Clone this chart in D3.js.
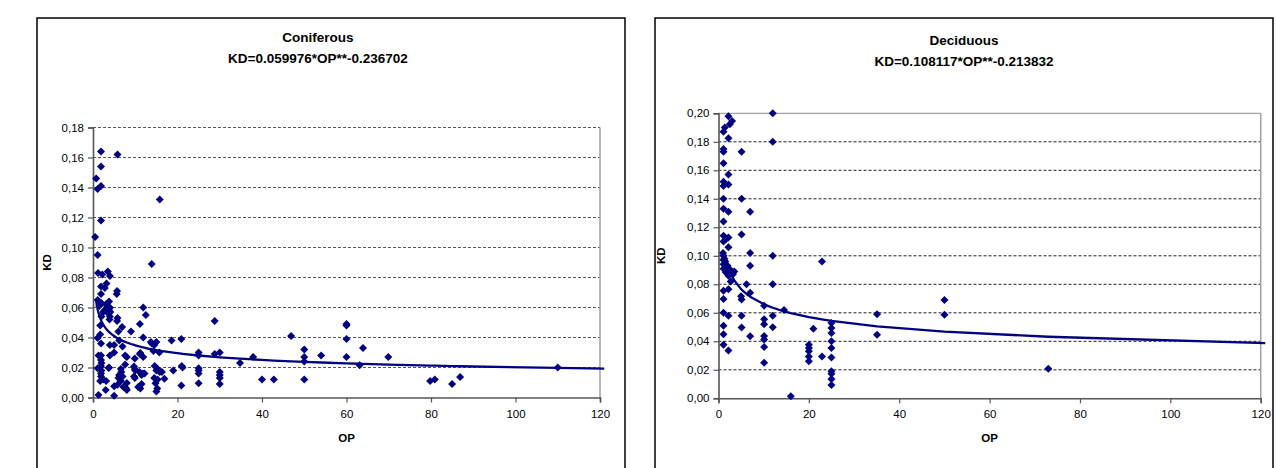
<!DOCTYPE html>
<html>
<head>
<meta charset="utf-8">
<script src="https://cdn.jsdelivr.net/npm/d3@7"></script>
<style>
  body { margin: 0; background: #fff; }
  svg { display: block; }
  text { font-family: "Liberation Sans", Arial, sans-serif; }
</style>
</head>
<body>
<svg id="chart" width="1276" height="468"></svg>
<script>
// Coniferous stands: observed OP and KD pairs
const coniferousOP = [
  1.9, 5.8, 1.9, 0.75, 1.1, 1.9, 1.9, 15.8, 0.5, 1.1,
  13.9, 1.2, 2.2, 3.5, 4.0, 1.9, 2.8, 3.2, 5.7, 5.6,
  1.9, 1.1, 2.0, 3.0, 3.8, 1.5, 2.7, 3.8, 4.1, 2.0,
  4.0, 5.8, 5.7, 11.9, 12.5, 1.7, 6.9, 6.0, 9.0, 11.1,
  1.7, 1.9, 4.0, 5.0, 6.2, 7.0, 11.9, 13.7, 14.5, 15.0,
  18.6, 20.9, 1.3, 1.9, 4.0, 5.0, 7.6, 8.0, 11.1, 11.9,
  14.3, 15.7, 1.9, 2.0, 1.9, 1.1, 2.0, 3.8, 6.6, 7.6,
  9.9, 9.9, 14.6, 15.0, 16.3, 19.0, 21.0, 1.9, 1.9, 1.7,
  2.4, 3.1, 3.0, 1.3, 5.0, 5.0, 5.8, 6.0, 6.6, 7.2,
  7.7, 8.0, 7.0, 6.7, 9.9, 10.0, 11.5, 10.7, 11.5, 11.2,
  11.8, 11.0, 14.5, 14.8, 15.0, 15.2, 15.3, 16.9, 15.8, 20.9,
  25.0, 25.0, 25.0, 25.0, 25.0, 25.0, 28.8, 28.8, 30.0, 30.0,
  30.0, 30.0, 30.0, 34.8, 37.9, 40.0, 42.8, 46.9, 50.0, 50.0,
  50.0, 50.0, 54.0, 60.0, 60.0, 60.0, 60.0, 63.1, 63.9, 69.9,
  79.8, 80.9, 85.0, 86.9, 110.0,
  3.7, 3.9, 1.1, 3.7, 4.0, 9.7, 12.2, 13.9, 15.3, 21.2,
  8.0, 7.8, 6.2, 11.2, 9.7, 2.4
];
const coniferousKD = [
  0.164, 0.162, 0.154, 0.146, 0.139, 0.141, 0.118, 0.132, 0.107, 0.095,
  0.089, 0.083, 0.082, 0.084, 0.081, 0.074, 0.073, 0.076, 0.071, 0.069,
  0.069, 0.065, 0.063, 0.062, 0.064, 0.061, 0.058, 0.059, 0.057, 0.054,
  0.054, 0.053, 0.051, 0.060, 0.055, 0.048, 0.047, 0.044, 0.044, 0.049,
  0.042, 0.036, 0.035, 0.035, 0.038, 0.034, 0.040, 0.037, 0.035, 0.037,
  0.038, 0.039, 0.028, 0.028, 0.028, 0.030, 0.028, 0.027, 0.029, 0.027,
  0.031, 0.030, 0.025, 0.023, 0.021, 0.0195, 0.018, 0.020, 0.019, 0.022,
  0.026, 0.019, 0.021, 0.018, 0.017, 0.018, 0.021, 0.016, 0.014, 0.011,
  0.012, 0.011, 0.005, 0.0017, 0.0012, 0.0075, 0.0085, 0.013, 0.011, 0.007,
  0.0065, 0.005, 0.014, 0.017, 0.013, 0.018, 0.015, 0.007, 0.009, 0.006,
  0.016, 0.017, 0.013, 0.0095, 0.004, 0.006, 0.012, 0.0125, 0.017, 0.008,
  0.030, 0.028, 0.0195, 0.018, 0.016, 0.0095, 0.051, 0.029, 0.030, 0.017,
  0.015, 0.013, 0.009, 0.023, 0.027, 0.012, 0.012, 0.041, 0.032, 0.027,
  0.024, 0.012, 0.028, 0.049, 0.048, 0.039, 0.027, 0.0215, 0.033, 0.027,
  0.011, 0.012, 0.009, 0.0137, 0.020,
  0.0558, 0.052, 0.0396, 0.0196, 0.060, 0.0207, 0.016, 0.036, 0.019, 0.020,
  0.0096, 0.006, 0.015, 0.0296, 0.014, 0.057
];

// Deciduous stands: observed OP and KD pairs
const deciduousOP = [
  2.2, 12, 12, 3.0, 2.5, 1.4, 1.1, 2.2, 1.1, 1.1,
  5.1, 1.1, 2.2, 1.1, 1.1, 2.2, 5.1, 1.1, 1.1, 2.2,
  7.0, 1.1, 5.1, 1.1, 1.6, 2.2, 1.1, 2.2, 7.0, 12,
  1.1, 1.1, 22.9, 7.0, 1.1, 1.1, 1.6, 3.5, 2.2, 2.7,
  2.2, 1.1, 6.2, 12, 7.0, 5.0, 5.1, 1.1, 10.1, 14.5,
  1.1, 2.2, 5.1, 12, 10.1, 10.1, 1.1, 5.1, 12, 25,
  25, 25, 21, 35.1, 35.1, 50, 50, 1.1, 7.0, 10.1,
  10.1, 1.1, 2.2, 10.1, 10.1, 20, 20, 20, 20, 20,
  22.9, 25, 25, 25, 25, 25, 25, 25, 16, 73,
  1.3, 2.0, 1.5, 2.5, 1.0, 3.2
];
const deciduousKD = [
  0.198, 0.200, 0.180, 0.1946, 0.1923, 0.190, 0.187, 0.1825, 0.175, 0.173,
  0.173, 0.165, 0.157, 0.152, 0.149, 0.150, 0.140, 0.140, 0.133, 0.131,
  0.131, 0.124, 0.115, 0.114, 0.1116, 0.1128, 0.110, 0.106, 0.102, 0.100,
  0.100, 0.097, 0.096, 0.093, 0.094, 0.091, 0.0885, 0.089, 0.086, 0.082,
  0.0765, 0.0755, 0.080, 0.080, 0.074, 0.0717, 0.0694, 0.0696, 0.065, 0.062,
  0.060, 0.058, 0.058, 0.058, 0.0555, 0.052, 0.051, 0.0496, 0.0498, 0.0528,
  0.0493, 0.0458, 0.0488, 0.059, 0.0446, 0.069, 0.0586, 0.045, 0.0435, 0.0437,
  0.0412, 0.0376, 0.0336, 0.036, 0.025, 0.0376, 0.0353, 0.033, 0.0294, 0.026,
  0.0294, 0.040, 0.0353, 0.0287, 0.0189, 0.0173, 0.0136, 0.0093, 0.0015, 0.0208,
  0.098, 0.093, 0.096, 0.0905, 0.102, 0.087
];

// Power-law fits as stated in the titles: KD = a * OP ** b
const coniferousFit = { a: 0.059976, b: -0.236702, startOP: 0.75 };
const deciduousFit  = { a: 0.108117, b: -0.213832, startOP: 1.4 };
const fitEndOP = 121;

const opTicks = [0, 20, 40, 60, 80, 100, 120];
const coniferousKDTicks = [0, 0.02, 0.04, 0.06, 0.08, 0.10, 0.12, 0.14, 0.16, 0.18];
const deciduousKDTicks  = [0, 0.02, 0.04, 0.06, 0.08, 0.10, 0.12, 0.14, 0.16, 0.18, 0.20];

const titles = {
  coniferous: ["Coniferous", "KD=0.059976*OP**-0.236702"],
  deciduous:  ["Deciduous",  "KD=0.108117*OP**-0.213832"]
};

const NAVY = "#000080";
const svg = d3.select("#chart");
const fmtKD = v => d3.format(".2f")(v).replace(".", ",");

function drawPanel(cfg) {
  const g = svg.append("g");

  // chart frame
  g.append("rect")
    .attr("x", cfg.frame.x).attr("y", cfg.frame.y)
    .attr("width", cfg.frame.w).attr("height", cfg.frame.h)
    .attr("fill", "#fff").attr("stroke", "#000").attr("stroke-width", 1.5);

  // two-line title
  cfg.title.forEach((t, i) => {
    g.append("text")
      .attr("x", cfg.titleX).attr("y", cfg.titleY + i * 21)
      .attr("text-anchor", "middle")
      .attr("font-size", 13.5).attr("font-weight", "bold")
      .text(t);
  });

  const x = d3.scaleLinear().domain([0, 120]).range([cfg.plot.x0, cfg.plot.x1]);
  const y = d3.scaleLinear().domain([0, d3.max(cfg.yTicks)]).range([cfg.plot.y1, cfg.plot.y0]);

  // dashed horizontal gridlines
  g.append("g").selectAll("line")
    .data(cfg.yTicks.filter(v => v > 0 && (cfg.dashTop || v < d3.max(cfg.yTicks))))
    .join("line")
    .attr("x1", cfg.plot.x0).attr("x2", cfg.plot.x1)
    .attr("y1", d => y(d)).attr("y2", d => y(d))
    .attr("stroke", cfg.gridColor).attr("stroke-width", 1)
    .attr("stroke-dasharray", "3,2");

  // plot-area border on the top and right
  if (!cfg.dashTop) {
    g.append("line")
      .attr("x1", cfg.plot.x0).attr("x2", cfg.plot.x1)
      .attr("y1", cfg.plot.y0).attr("y2", cfg.plot.y0)
      .attr("stroke", "#8c8c8c").attr("stroke-width", 1);
  }
  g.append("line")
    .attr("x1", cfg.plot.x1).attr("x2", cfg.plot.x1)
    .attr("y1", cfg.plot.y0).attr("y2", cfg.plot.y1)
    .attr("stroke", "#a0a0a0").attr("stroke-width", 1.5);

  // axes
  const yAxis = g.append("g")
    .attr("transform", `translate(${cfg.plot.x0},0)`)
    .call(d3.axisLeft(y).tickValues(cfg.yTicks).tickFormat(fmtKD).tickSize(5).tickPadding(4));
  const xAxis = g.append("g")
    .attr("transform", `translate(0,${cfg.plot.y1})`)
    .call(d3.axisBottom(x).tickValues(opTicks).tickFormat(d3.format("d")).tickSize(5).tickPadding(7));
  [yAxis, xAxis].forEach(a => {
    a.select(".domain").attr("stroke", "#555").attr("stroke-width", 1.6);
    a.selectAll(".tick line").attr("stroke", "#555").attr("stroke-width", 1.2);
    a.selectAll(".tick text").attr("font-size", 11.5).attr("fill", "#000")
      .attr("font-family", '"Liberation Sans", Arial, sans-serif');
  });

  // axis titles
  g.append("text")
    .attr("x", (cfg.plot.x0 + cfg.plot.x1) / 2).attr("y", cfg.plot.y1 + 44)
    .attr("text-anchor", "middle").attr("font-size", 11.5).attr("font-weight", "bold")
    .text("OP");
  g.append("text")
    .attr("transform", `translate(${cfg.kdX},${(cfg.plot.y0 + cfg.plot.y1) / 2}) rotate(-90)`)
    .attr("text-anchor", "middle").attr("font-size", 11.5).attr("font-weight", "bold")
    .text("KD");

  // fitted power curve evaluated at the observed OP values
  const fitOP = Array.from(new Set(cfg.op))
    .filter(v => v >= cfg.fit.startOP)
    .sort((a, b) => a - b)
    .concat([fitEndOP]);
  const line = d3.line()
    .x(d => x(d))
    .y(d => y(cfg.fit.a * Math.pow(d, cfg.fit.b)));
  g.append("path")
    .datum(fitOP)
    .attr("d", line)
    .attr("fill", "none").attr("stroke", NAVY).attr("stroke-width", 2.3)
    .attr("stroke-linejoin", "round");

  // diamond markers
  const diamond = d3.symbol(d3.symbolSquare, 32);
  g.append("g").selectAll("path")
    .data(cfg.op.map((v, i) => [v, cfg.kd[i]]))
    .join("path")
    .attr("d", diamond)
    .attr("transform", d => `translate(${x(d[0])},${y(d[1])}) rotate(45)`)
    .attr("fill", NAVY);
}

drawPanel({
  frame: { x: 37, y: 18, w: 588, h: 470 },
  plot: { x0: 93, x1: 600, y0: 127.5, y1: 397.5 },
  titleX: 318,
  titleY: 42,
  title: titles.coniferous,
  yTicks: coniferousKDTicks,
  op: coniferousOP, kd: coniferousKD,
  fit: coniferousFit,
  gridColor: "#555",
  dashTop: true,
  kdX: 51
});

drawPanel({
  frame: { x: 655, y: 18, w: 618, h: 470 },
  plot: { x0: 718.5, x1: 1260.7, y0: 113.3, y1: 398.3 },
  titleX: 964,
  titleY: 45,
  title: titles.deciduous,
  yTicks: deciduousKDTicks,
  op: deciduousOP, kd: deciduousKD,
  fit: deciduousFit,
  gridColor: "#222",
  dashTop: false,
  kdX: 665
});
</script>
</body>
</html>
